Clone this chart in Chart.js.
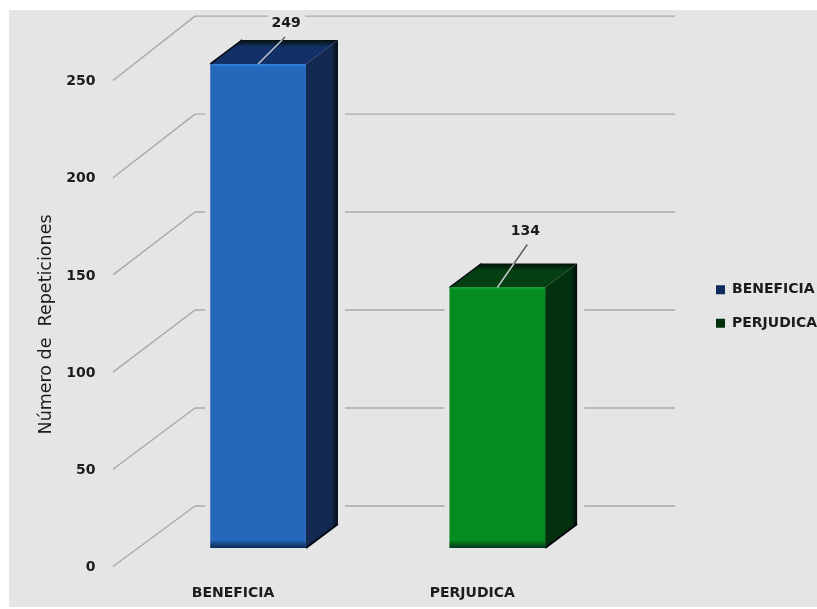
<!DOCTYPE html>
<html>
<head>
<meta charset="utf-8">
<style>
html,body{margin:0;padding:0;background:#fff;}
canvas{display:block;filter:blur(0.45px);}
</style>
<script src="https://cdn.jsdelivr.net/npm/chart.js@4/dist/chart.umd.js"></script>
</head>
<body>
<canvas id="c" width="817" height="609"></canvas>
<script>
const categories = ["BENEFICIA", "PERJUDICA"];
const beneficiaValues = [249, null];
const perjudicaValues = [null, 134];
const axisTitle = "Número de  Repeticiones       ";
const frontColors = [["#123a78","#2f86dd","#2467bb","#2f7fd6","#0f2f66"],["#04501a","#0aa82e","#058c20","#0aa02c","#033f14"]];
const topColors = ["#123067","#044012"];
const sideColors = ["#14294f","#03300f"];
const legendColors = ["#0f2a5e","#03300c"];
const DX = 32, DY = 24;

const face3d = {
  id: "face3d",
  beforeDraw(chart){
    const c = chart.ctx;
    c.save(); c.fillStyle = "#e5e5e5"; c.fillRect(9,10,808,597); c.restore();
  },
  afterLayout(chart){
    const shiftX = 716 - (chart.legend.left + 19.5);
    chart.legend.left += shiftX; chart.legend.right += shiftX;
    chart.legend.top -= 29; chart.legend.bottom -= 29;
  },
  beforeDatasetsDraw(chart){
    const c = chart.ctx, y = chart.scales.y;
    const bars = [chart.getDatasetMeta(0).data[0], chart.getDatasetMeta(1).data[1]];
    c.save();
    y.ticks.forEach(t => {
      const p = y.getPixelForValue(t.value);
      const fy = p + 18.5;
      const by = p - 42 - (548 - p) * 0.008;
      c.strokeStyle = "#a9a9a9"; c.lineWidth = 1.4;
      c.beginPath(); c.moveTo(113, fy); c.lineTo(195, by); c.stroke();
      const gaps = [];
      bars.forEach(b => {
        if (by > b.y - DY - 6) gaps.push([b.x - b.width/2 - 5, b.x + b.width/2 + DX + 7]);
      });
      if (t.value === 250) gaps.push([268, 305]);
      gaps.sort((a,b)=>a[0]-b[0]);
      let x0 = 195;
      c.beginPath();
      gaps.forEach(g => { c.moveTo(x0, by); c.lineTo(g[0], by); x0 = g[1]; });
      c.moveTo(x0, by); c.lineTo(675, by);
      c.stroke();
    });
    bars.forEach((b,i) => {
      const l = b.x - b.width/2, r = b.x + b.width/2, t = b.y, bt = b.base;
      const sg = c.createLinearGradient(r,0,r+DX,0);
      sg.addColorStop(0,sideColors[i]); sg.addColorStop(0.8,sideColors[i]); sg.addColorStop(1,"#020810");
      c.fillStyle = sg;
      c.beginPath(); c.moveTo(r,t); c.lineTo(r+DX,t-DY); c.lineTo(r+DX,bt-DY); c.lineTo(r,bt); c.closePath(); c.fill();
      c.strokeStyle = "#02060e"; c.lineWidth = 2;
      c.beginPath(); c.moveTo(r+DX,bt-DY); c.lineTo(r,bt); c.stroke();
      const g = c.createLinearGradient(0,t-DY,0,t);
      g.addColorStop(0,"#04100a"); g.addColorStop(0.3,topColors[i]); g.addColorStop(1,topColors[i]);
      c.fillStyle = g;
      c.beginPath(); c.moveTo(l,t); c.lineTo(l+DX,t-DY); c.lineTo(r+DX,t-DY); c.lineTo(r,t); c.closePath(); c.fill();
      c.strokeStyle = "#020a12"; c.lineWidth = 1.5;
      c.beginPath(); c.moveTo(l,t); c.lineTo(l+DX,t-DY); c.stroke();
    });
    c.restore();
  },
  afterDatasetsDraw(chart){
    const c = chart.ctx;
    const bars = [chart.getDatasetMeta(0).data[0], chart.getDatasetMeta(1).data[1]];
    const vals = [beneficiaValues[0], perjudicaValues[1]];
    c.save();
    bars.forEach((b,i) => {
      const l = b.x - b.width/2;
      const g = c.createLinearGradient(0,b.base-8,0,b.base);
      g.addColorStop(0,"rgba(0,0,0,0)"); g.addColorStop(1,"rgba(0,10,30,0.65)");
      c.fillStyle = g; c.fillRect(l,b.base-8,b.width,8);
      c.fillStyle = frontColors[i][3];
      c.fillRect(l+2,b.y,b.width-2,2);
      const lx = b.x, ly = b.y;
      const ex = lx + (i===0 ? 27 : 30), ey = ly - (i===0 ? 27 : 43);
      c.strokeStyle = "#c9ced2"; c.lineWidth = 1.4;
      const mx = lx + (ex-lx)*Math.min(1, DY/(ly-ey));
      const my = ly - Math.min(ly-ey, DY);
      c.beginPath(); c.moveTo(lx,ly); c.lineTo(mx,my); c.stroke();
      if (ey < my) {
        c.strokeStyle = "#5a5a5a";
        c.beginPath(); c.moveTo(mx,my); c.lineTo(ex,ey); c.stroke();
      }
      c.fillStyle = "#1a1a1a";
      c.font = "bold 14px 'DejaVu Sans'";
      c.textAlign = "center"; c.textBaseline = "middle";
      c.fillText(String(vals[i]), b.x + 28, b.y - (i===0 ? 41 : 56));
    });
    c.restore();
  }
};

function frontFill(i){
  return ctx => {
    const el = ctx.chart.getDatasetMeta(ctx.datasetIndex).data[ctx.dataIndex];
    if (!el || !el.width) return frontColors[i][2];
    const l = el.x - el.width/2, r = el.x + el.width/2;
    const g = ctx.chart.ctx.createLinearGradient(l,0,r,0);
    const s = frontColors[i];
    g.addColorStop(0,s[0]); g.addColorStop(0.05,s[2]); g.addColorStop(0.9,s[2]); g.addColorStop(0.97,s[3]); g.addColorStop(1,s[1]);
    return g;
  };
}

new Chart(document.getElementById("c"), {
  type: "bar",
  data: {
    labels: categories,
    datasets: [
      { label: categories[0], data: beneficiaValues, backgroundColor: frontFill(0), grouped:false, barPercentage:0.4, categoryPercentage:1 },
      { label: categories[1], data: perjudicaValues, backgroundColor: frontFill(1), grouped:false, barPercentage:0.4, categoryPercentage:1 }
    ]
  },
  options: {
    responsive: false,
    animation: false,
    layout: { padding: { top: 62, left: 0, right: 0, bottom: 0 } },
    plugins: {
      tooltip: { enabled:false },
      legend: {
        position: "right",
        labels: {
          boxWidth: 9, boxHeight: 9, padding: 19.5,
          color: "#1c1c1c",
          font: { family: "'DejaVu Sans'", size: 14, weight:"bold" },
          generateLabels: () => categories.map((n,i)=>({ text:n, fillStyle:legendColors[i], strokeStyle:legendColors[i], lineWidth:0, datasetIndex:i, fontColor:"#1c1c1c" }))
        }
      }
    },
    scales: {
      x: {
        grid: { display:false }, border: { display:false },
        ticks: { color:"#1c1c1c", font:{ family:"'DejaVu Sans'", size:14, weight:"bold" }, labelOffset:-25, padding:29, maxRotation:0, autoSkip:false },
        afterFit: s => { s.height = 61; }
      },
      y: {
        min: 0, max: 250,
        grid: { display:false }, border: { display:false },
        ticks: { stepSize:50, color:"#1c1c1c", font:{ family:"'DejaVu Sans'", size:14, weight:"bold" }, labelOffset:19.5, padding:35 },
        title: { display:true, text:axisTitle, color:"#1c1c1c", font:{ family:"'DejaVu Sans'", size:17.5 }, padding:{ top:36, bottom:0 } },
        afterFit: s => { s.width = 138.5; }
      },
      y2: {
        position:"right", min:0, max:250,
        grid:{ display:false }, border:{ display:false },
        ticks:{ display:false },
        afterFit: s => { s.width = 69.5; }
      }
    }
  },
  plugins: [face3d]
});
</script>
</body>
</html>
